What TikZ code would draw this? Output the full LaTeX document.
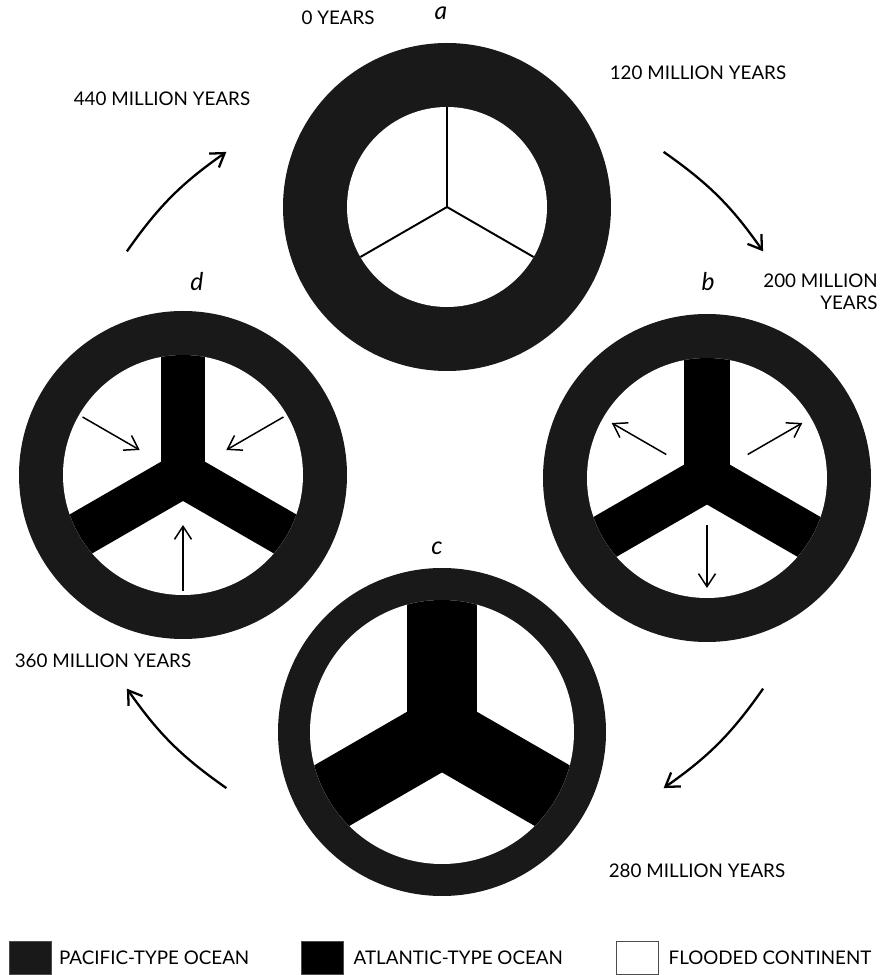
\documentclass[tikz,border=0pt]{standalone}
\usepackage{fontspec}
\setmainfont{Lato}
\usetikzlibrary{arrows.meta, calc, positioning}
\definecolor{pacific}{gray}{0.1}

\begin{document}
\begin{tikzpicture}[x=0.02cm, y=0.02cm,
  >={Straight Barb[length=2.6mm, width=3.4mm]},
  yrs/.style={font=\fontsize{10.7}{12.5}\selectfont, inner sep=0pt},
  stage/.style={font=\fontsize{14}{14}\selectfont\itshape, inner sep=0pt},
  cyc/.style={->, line width=1.3pt},
  mov/.style={->, line width=0.85pt},
  key/.style={minimum width=0.84cm, minimum height=0.66cm, inner sep=0pt, draw=black!70, line width=0.3pt}]
  \useasboundingbox (0,0) rectangle (880,975);
  % globe centres
  \coordinate (a) at (447,768);
  \coordinate (b) at (707,497);
  \coordinate (c) at (442,243);
  \coordinate (d) at (183,500);
  \coordinate (o) at (445,505);
  % pacific ring, flooded continent inside
  \foreach \g/\rin in {a/100, b/120, c/132, d/120} {
    \fill[pacific] (\g) circle (164);
    \fill[white] (\g) circle (\rin);
  }
  % atlantic-type ocean
  \foreach \g/\rin/\w in {b/120/0.92, c/132/1.4, d/120/0.9} {
    \begin{scope}
      \clip (\g) circle (\rin);
      \foreach \ang in {90,210,330}
        \draw[line width=\w cm] (\g) -- ++(\ang:150);
    \end{scope}
  }
  \foreach \ang in {90,210,330}
    \draw[line width=1.1pt] (a) -- ++(\ang:100);
  % opening (b) and closing (d)
  \foreach \ang in {30,150,270} {
    \draw[mov] ($(b)+(\ang:47)$) -- ($(b)+(\ang:110)$);
    \draw[mov] ($(d)+(\ang:116)$) -- ($(d)+(\ang:50)$);
  }
  % the cycle
  \foreach \i/\mid in {1/45, 2/-45, 3/-135, 4/135} {
    \coordinate (s\i) at ($(o)+(\mid+10.5:386)$);
    \coordinate (e\i) at ($(o)+(\mid-10.5:386)$);
    \draw[cyc] (s\i) to[bend left=10] (e\i);
  }
  % labels
  \node[yrs, anchor=east] (t0) at (375,957) {0 YEARS};
  \node[stage] (la) at (441,962) {a};
  \node[yrs] (t120) at (698,902) {120 MILLION YEARS};
  \node[stage] (lb) at (708,693) {b};
  \node[yrs, align=right, anchor=east] (t200) at (878,683) {200 MILLION\\YEARS};
  \node[yrs] (t280) at (697,104) {280 MILLION YEARS};
  \node[stage] (lc) at (437,427) {c};
  \node[yrs] (t360) at (103,314) {360 MILLION YEARS};
  \node[stage] (ld) at (197,693) {d};
  \node[yrs] (t440) at (162,876) {440 MILLION YEARS};
  % key
  \node[key, fill=pacific] (kp) at (30,17) {};
  \node[yrs, right=0.15cm of kp] (kpt) {PACIFIC-TYPE OCEAN};
  \node[key, fill=black] (ka) at (322,17) {};
  \node[yrs, right=0.2cm of ka] (kat) {ATLANTIC-TYPE OCEAN};
  \node[key, fill=white] (kf) at (637,17) {};
  \node[yrs, right=0.2cm of kf] (kft) {FLOODED CONTINENT};
\end{tikzpicture}
\end{document}
